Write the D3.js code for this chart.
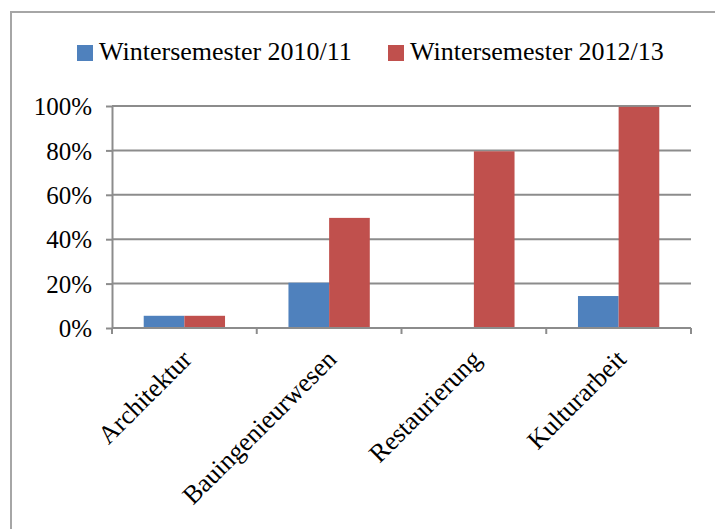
<!DOCTYPE html>
<html>
<head>
<meta charset="utf-8">
<script src="https://cdn.jsdelivr.net/npm/d3@7"></script>
<style>
  body { margin: 0; background: #fff; }
  svg text { font-family: 'Liberation Serif', 'Times New Roman', serif; fill: #000; }
</style>
</head>
<body>
<div id="chart"></div>
<script>
const categories = ['Architektur', 'Bauingenieurwesen', 'Restaurierung', 'Kulturarbeit'];
const seriesNames = ['Wintersemester 2010/11', 'Wintersemester 2012/13'];
const ws1011 = [5.5, 20.4, 0, 14.4];
const ws1213 = [5.5, 49.6, 79.6, 99.6];
const yTicks = [0, 20, 40, 60, 80, 100];
const colors = ['#4f81bd', '#c0504d'];

const W = 715, H = 529;
const margin = {top: 106, right: 24, bottom: 201, left: 112};
const width = W - margin.left - margin.right;
const height = H - margin.top - margin.bottom;

const svg = d3.select('#chart').append('svg')
  .attr('width', W)
  .attr('height', H);

// outer chart frame (runs off the right/bottom edge)
svg.append('rect')
  .attr('x', 11).attr('y', 12)
  .attr('width', 740).attr('height', 560)
  .attr('fill', 'none')
  .attr('stroke', '#a6a6a6')
  .attr('stroke-width', 2);

const g = svg.append('g')
  .attr('transform', 'translate(' + margin.left + ',' + margin.top + ')');

const x0 = d3.scaleBand().domain(categories).range([0, width]);
const x1 = d3.scaleBand().domain(seriesNames)
  .range([0, x0.bandwidth()]).paddingInner(0).paddingOuter(0.78);
const y = d3.scaleLinear().domain([0, 100]).range([height, 0]);

// gridlines
g.append('g').selectAll('line')
  .data(yTicks.filter(d => d > 0))
  .enter().append('line')
  .attr('x1', 0).attr('x2', width)
  .attr('y1', d => y(d)).attr('y2', d => y(d))
  .attr('stroke', '#8c8c8c')
  .attr('stroke-width', 2);

// bars
const rows = categories.map((c, i) => ({cat: c, vals: [ws1011[i], ws1213[i]]}));
const grp = g.selectAll('.grp').data(rows).enter().append('g')
  .attr('transform', d => 'translate(' + x0(d.cat) + ',0)');
grp.selectAll('rect')
  .data(d => d.vals.map((v, j) => ({name: seriesNames[j], v: v, j: j})))
  .enter().append('rect')
  .attr('x', d => x1(d.name))
  .attr('width', x1.bandwidth())
  .attr('y', d => y(d.v))
  .attr('height', d => height - y(d.v))
  .attr('fill', d => colors[d.j]);

// y axis
const yAxis = g.append('g')
  .call(d3.axisLeft(y).tickValues(yTicks).tickFormat(d => d + '%')
    .tickSizeInner(6).tickSizeOuter(0).tickPadding(14));
yAxis.select('.domain').attr('stroke', '#8c8c8c').attr('stroke-width', 2);
yAxis.selectAll('.tick line').attr('stroke', '#8c8c8c').attr('stroke-width', 2);
yAxis.selectAll('text').style('font-size', '25px').attr('dy', '0.35em');

// x axis with boundary ticks
const xAxis = g.append('g').attr('transform', 'translate(0,' + height + ')');
xAxis.append('line')
  .attr('x1', 0).attr('x2', width)
  .attr('stroke', '#8c8c8c').attr('stroke-width', 2);
const bounds = categories.map(c => x0(c)).concat([width]);
xAxis.selectAll('.xt').data(bounds).enter().append('line')
  .attr('x1', d => d).attr('x2', d => d)
  .attr('y1', 0).attr('y2', 6)
  .attr('stroke', '#8c8c8c').attr('stroke-width', 2);
xAxis.selectAll('.xl').data(categories).enter().append('text')
  .attr('transform', d => 'translate(' + (x0(d) + x0.bandwidth() / 2 - 4) + ',20) rotate(-45)')
  .attr('text-anchor', 'end')
  .attr('dy', '0.7em')
  .style('font-size', '26px')
  .text(d => d);

// legend
const legend = svg.append('g');
const legendX = [77, 388];
seriesNames.forEach((n, i) => {
  legend.append('rect')
    .attr('x', legendX[i]).attr('y', 45)
    .attr('width', 16).attr('height', 16)
    .attr('fill', colors[i]);
  legend.append('text')
    .attr('x', legendX[i] + 22).attr('y', 60)
    .style('font-size', '26px')
    .text(n);
});
</script>
</body>
</html>
